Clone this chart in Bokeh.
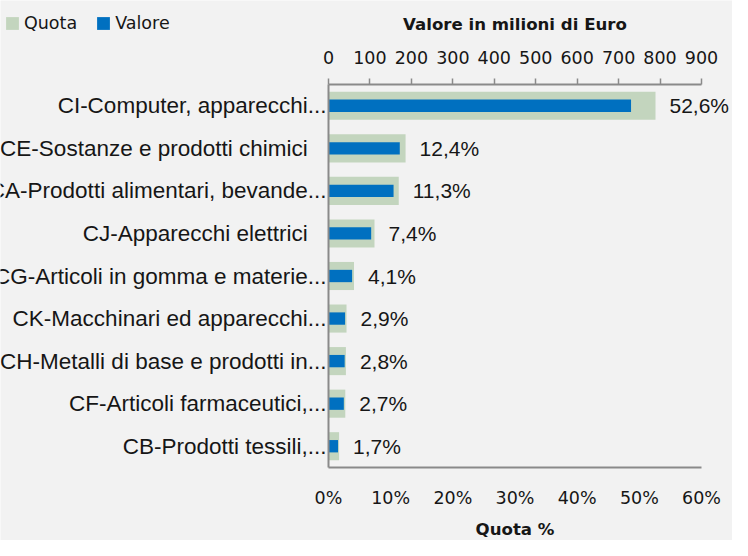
from bokeh.plotting import figure
from bokeh.models import (Range1d, LinearAxis, FixedTicker, PrintfTickFormatter,
                          ColumnDataSource, Legend, LegendItem)
from bokeh.core.properties import value
from bokeh.embed import file_html
from bokeh.resources import INLINE

categories = [
    "CI-Computer, apparecchi...",
    "CE-Sostanze e prodotti chimici",
    "CA-Prodotti alimentari, bevande...",
    "CJ-Apparecchi elettrici",
    "CG-Articoli in gomma e materie...",
    "CK-Macchinari ed apparecchi...",
    "CH-Metalli di base e prodotti in...",
    "CF-Articoli farmaceutici,...",
    "CB-Prodotti tessili,...",
]
quota = [52.6, 12.4, 11.3, 7.4, 4.1, 2.9, 2.8, 2.7, 1.7]
valore = [730, 172, 157, 103, 57, 40, 39, 37, 23]
quota_ticks = [0, 10, 20, 30, 40, 50, 60]
valore_ticks = [0, 100, 200, 300, 400, 500, 600, 700, 800, 900]
quota_title = "Quota %"
valore_title = "Valore in milioni di Euro"

GREEN = "#c3d5be"
BLUE = "#0070c0"
AXIS = "#8a8a8a"
TXT = "#161616"
BG = "#f2f2f2"

# layout in pixels (the plot frame fills the whole canvas; axes sit at fixed places)
W, H = 732, 540
AX_LEFT = 328                 # pixel of 0 on both horizontal axes
AXIS_PX = 373                 # pixel length of the horizontal axes
FRAME_TOP, FRAME_BOTTOM = 84, 467

n = len(categories)
q0, q1 = quota_ticks[0], quota_ticks[-1]
v0, v1 = valore_ticks[0], valore_ticks[-1]
band = (FRAME_BOTTOM - FRAME_TOP) / n

ypos = [n - i - 0.5 for i in range(n)]
qlabels = [f"{v:.1f}".replace(".", ",") + "%" for v in quota]
cat_text = [c if c.endswith("...") else c + "\u00a0\u00a0\u00a0" for c in categories]
src = ColumnDataSource(dict(y=ypos, quota=quota, valore=valore, qlabel=qlabels,
                            ctext=cat_text, zero=[0] * n))

p = figure(width=W, height=H, output_backend="svg", toolbar_location=None,
           x_axis_location=None, y_axis_location=None,
           x_range=Range1d(q0 - AX_LEFT * (q1 - q0) / AXIS_PX,
                           q0 + (W - AX_LEFT) * (q1 - q0) / AXIS_PX),
           y_range=Range1d(-(H - FRAME_BOTTOM) / band, n + FRAME_TOP / band),
           min_border=0, min_border_left=0, min_border_right=0,
           min_border_top=0, min_border_bottom=0)
p.extra_x_ranges = {"val": Range1d(v0 - AX_LEFT * (v1 - v0) / AXIS_PX,
                                   v0 + (W - AX_LEFT) * (v1 - v0) / AXIS_PX)}
p.title.visible = False
p.background_fill_color = BG
p.border_fill_color = BG
p.outline_line_color = None
p.grid.visible = False

g = p.hbar(y="y", left=0, right="quota", height=0.66, source=src,
           fill_color=GREEN, line_color=None)
b = p.hbar(y="y", left=0, right="valore", height=0.29, source=src,
           fill_color=BLUE, line_color=None, x_range_name="val")

# value labels
p.text(x="quota", y="y", text="qlabel", source=src, x_offset=14,
       text_align="left", text_baseline="middle",
       text_font=value("Liberation Sans"), text_font_size="21px", text_color=TXT)
# category labels
p.text(x="zero", y="y", text="ctext", source=src, x_offset=-2,
       text_align="right", text_baseline="middle",
       text_font=value("Liberation Sans"), text_font_size="22.5px", text_color=TXT)

# bottom axis (Quota %)
xa = LinearAxis(fixed_location=0, ticker=FixedTicker(ticks=quota_ticks),
                formatter=PrintfTickFormatter(format="%d%%"), bounds=(q0, q1))
xa.major_label_text_font = "DejaVu Sans"
xa.major_label_text_font_size = "17.5px"
xa.major_label_text_color = TXT
xa.major_label_standoff = 20
xa.major_tick_out = 0
xa.major_tick_in = 0
xa.major_tick_line_color = None
xa.minor_tick_line_color = None
xa.axis_line_color = AXIS
xa.axis_line_width = 2
p.add_layout(xa, "below")

# top axis (Valore)
ta = LinearAxis(x_range_name="val", fixed_location=n,
                ticker=FixedTicker(ticks=valore_ticks), bounds=(v0, v1))
ta.major_label_text_font = "DejaVu Sans"
ta.major_label_text_font_size = "17.5px"
ta.major_label_text_color = TXT
ta.major_label_standoff = 15
ta.major_tick_out = 6
ta.major_tick_in = 0
ta.major_tick_line_color = AXIS
ta.major_tick_line_width = 1.5
ta.minor_tick_line_color = None
ta.axis_line_color = AXIS
ta.axis_line_width = 2
p.add_layout(ta, "above")

# vertical category axis (line only)
ya = LinearAxis(fixed_location=0, ticker=FixedTicker(ticks=[]), bounds=(0, n))
ya.major_label_text_font_size = "0px"
ya.major_tick_line_color = None
ya.minor_tick_line_color = None
ya.axis_line_color = AXIS
ya.axis_line_width = 2
p.add_layout(ya, "left")

# axis titles
p.text(x=[(v0 + v1) / 2], y=[n], text=[valore_title], x_range_name="val",
       y_offset=-60, text_align="center", text_baseline="middle",
       text_font=value("DejaVu Sans"), text_font_style="bold",
       text_font_size="16.6px", text_color=TXT)
p.text(x=[(q0 + q1) / 2], y=[0], text=[quota_title],
       y_offset=62, text_align="center", text_baseline="middle",
       text_font=value("DejaVu Sans"), text_font_style="bold",
       text_font_size="16.6px", text_color=TXT)

legend = Legend(items=[LegendItem(label="Quota", renderers=[g]),
                       LegendItem(label="Valore", renderers=[b])],
                orientation="horizontal", location=(4, H - 12 - 21),
                background_fill_alpha=0, border_line_color=None, padding=0, margin=0,
                glyph_width=16, glyph_height=16, label_standoff=4, spacing=18,
                label_text_font="DejaVu Sans", label_text_font_size="17.5px",
                label_text_color=TXT)
p.add_layout(legend)

open("out.html", "w").write(file_html(p, INLINE))
